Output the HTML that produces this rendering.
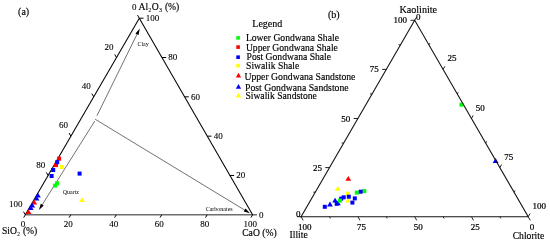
<!DOCTYPE html>
<html><head><meta charset="utf-8"><title>Ternary</title>
<style>
html,body{margin:0;padding:0;background:#fff;}
svg{display:block;font-family:"Liberation Serif",serif;fill:#000;}
text{stroke:#000;stroke-width:0.15px;}
</style></head><body>
<svg width="550" height="242" viewBox="0 0 550 242">
<rect width="550" height="242" fill="#fff"/>
<line x1="96.90" y1="115.80" x2="137.46" y2="33.36" stroke="#3a3a3a" stroke-width="0.72" />
<polygon points="139.80,28.60 138.59,35.03 135.45,33.48" fill="#000"/>
<line x1="94.80" y1="121.00" x2="41.72" y2="205.51" stroke="#3a3a3a" stroke-width="0.72" />
<polygon points="38.90,210.00 40.77,203.73 43.73,205.60" fill="#000"/>
<line x1="95.10" y1="119.20" x2="245.47" y2="210.55" stroke="#3a3a3a" stroke-width="0.72" />
<polygon points="250.00,213.30 243.71,211.52 245.52,208.53" fill="#000"/>
<text x="143.10" y="46.30" font-size="6" text-anchor="middle" style="stroke:none">Clay</text>
<text x="62.70" y="194.00" font-size="6" text-anchor="start" style="stroke:none">Quartz</text>
<text x="205.70" y="211.00" font-size="6" text-anchor="start" style="stroke:none">Carbonates</text>
<line x1="25.30" y1="214.80" x2="256.90" y2="214.80" stroke="#6e6e6e" stroke-width="1.5" />
<line x1="139.30" y1="18.20" x2="25.30" y2="214.80" stroke="#000" stroke-width="1.05" />
<line x1="139.30" y1="18.20" x2="252.60" y2="214.80" stroke="#000" stroke-width="1.05" />
<rect x="55.00" y="181.30" width="4.0" height="4.0" fill="#00ff00"/>
<rect x="53.10" y="183.60" width="4.0" height="4.0" fill="#00ff00"/>
<rect x="57.10" y="156.70" width="4.0" height="4.0" fill="#ff0000"/>
<rect x="54.00" y="163.10" width="4.0" height="4.0" fill="#ff0000"/>
<rect x="55.20" y="160.20" width="4.0" height="4.0" fill="#0000ff"/>
<rect x="51.20" y="168.00" width="4.0" height="4.0" fill="#0000ff"/>
<rect x="49.60" y="174.00" width="4.0" height="4.0" fill="#0000ff"/>
<rect x="77.60" y="171.60" width="4.0" height="4.0" fill="#0000ff"/>
<rect x="59.90" y="165.00" width="4.0" height="4.0" fill="#ffff00"/>
<polygon points="79.10,202.10 84.90,202.10 82.00,197.30" fill="#ffff00"/>
<polygon points="35.00,197.60 40.80,197.60 37.90,192.80" fill="#0000ff"/>
<polygon points="33.70,200.60 39.50,200.60 36.60,195.80" fill="#0000ff"/>
<polygon points="31.30,204.40 37.10,204.40 34.20,199.60" fill="#ff0000"/>
<polygon points="29.30,207.60 35.10,207.60 32.20,202.80" fill="#0000ff"/>
<polygon points="27.80,209.90 33.60,209.90 30.70,205.10" fill="#0000ff"/>
<polygon points="25.60,214.10 31.40,214.10 28.50,209.30" fill="#ff0000"/>
<line x1="139.30" y1="18.20" x2="137.50" y2="15.08" stroke="#000" stroke-width="1.0" />
<text x="136.40" y="10.40" font-size="9.0" text-anchor="end" style="stroke-width:0.1px">0</text>
<line x1="139.30" y1="18.20" x2="143.50" y2="18.20" stroke="#000" stroke-width="1.0" />
<text x="145.70" y="21.10" font-size="9.0" text-anchor="start" style="stroke-width:0.1px">100</text>
<line x1="25.30" y1="214.80" x2="23.70" y2="217.57" stroke="#000" stroke-width="1.0" />
<text x="22.90" y="227.20" font-size="9.0" text-anchor="middle" style="stroke-width:0.1px">0</text>
<line x1="116.50" y1="57.52" x2="114.70" y2="54.40" stroke="#000" stroke-width="1.0" />
<text x="113.60" y="49.72" font-size="9.0" text-anchor="end" style="stroke-width:0.1px">20</text>
<line x1="161.96" y1="57.52" x2="166.16" y2="57.52" stroke="#000" stroke-width="1.0" />
<text x="168.36" y="60.42" font-size="9.0" text-anchor="start" style="stroke-width:0.1px">80</text>
<line x1="70.76" y1="214.80" x2="69.16" y2="217.57" stroke="#000" stroke-width="1.0" />
<text x="68.36" y="227.20" font-size="9.0" text-anchor="middle" style="stroke-width:0.1px">20</text>
<line x1="93.70" y1="96.84" x2="91.90" y2="93.72" stroke="#000" stroke-width="1.0" />
<text x="90.80" y="89.04" font-size="9.0" text-anchor="end" style="stroke-width:0.1px">40</text>
<line x1="184.62" y1="96.84" x2="188.82" y2="96.84" stroke="#000" stroke-width="1.0" />
<text x="191.02" y="99.74" font-size="9.0" text-anchor="start" style="stroke-width:0.1px">60</text>
<line x1="116.22" y1="214.80" x2="114.62" y2="217.57" stroke="#000" stroke-width="1.0" />
<text x="113.82" y="227.20" font-size="9.0" text-anchor="middle" style="stroke-width:0.1px">40</text>
<line x1="70.90" y1="136.16" x2="69.10" y2="133.04" stroke="#000" stroke-width="1.0" />
<text x="68.00" y="128.36" font-size="9.0" text-anchor="end" style="stroke-width:0.1px">60</text>
<line x1="207.28" y1="136.16" x2="211.48" y2="136.16" stroke="#000" stroke-width="1.0" />
<text x="213.68" y="139.06" font-size="9.0" text-anchor="start" style="stroke-width:0.1px">40</text>
<line x1="161.68" y1="214.80" x2="160.08" y2="217.57" stroke="#000" stroke-width="1.0" />
<text x="159.28" y="227.20" font-size="9.0" text-anchor="middle" style="stroke-width:0.1px">60</text>
<line x1="48.10" y1="175.48" x2="46.30" y2="172.36" stroke="#000" stroke-width="1.0" />
<text x="45.20" y="167.68" font-size="9.0" text-anchor="end" style="stroke-width:0.1px">80</text>
<line x1="229.94" y1="175.48" x2="234.14" y2="175.48" stroke="#000" stroke-width="1.0" />
<text x="236.34" y="178.38" font-size="9.0" text-anchor="start" style="stroke-width:0.1px">20</text>
<line x1="207.14" y1="214.80" x2="205.54" y2="217.57" stroke="#000" stroke-width="1.0" />
<text x="204.74" y="227.20" font-size="9.0" text-anchor="middle" style="stroke-width:0.1px">80</text>
<line x1="25.30" y1="214.80" x2="23.50" y2="211.68" stroke="#000" stroke-width="1.0" />
<text x="22.40" y="207.00" font-size="9.0" text-anchor="end" style="stroke-width:0.1px">100</text>
<text x="259.00" y="217.70" font-size="9.0" text-anchor="start" style="stroke-width:0.1px">0</text>
<line x1="252.60" y1="214.80" x2="251.00" y2="217.57" stroke="#000" stroke-width="1.0" />
<text x="250.20" y="227.20" font-size="9.0" text-anchor="middle" style="stroke-width:0.1px">100</text>
<text x="138.50" y="10.00" font-size="9.65" text-anchor="start" >Al<tspan font-size="5.4" dx="0.4" dy="2.4" style="stroke-width:0.1px">2</tspan><tspan dx="0.6" dy="-2.4">O</tspan><tspan font-size="5.4" dx="0.4" dy="2.4" style="stroke-width:0.1px">3</tspan><tspan dx="0.6" dy="-2.4"> (%)</tspan></text>
<text x="1.90" y="233.90" font-size="9.65" text-anchor="start" >SiO<tspan font-size="5.4" dx="0.4" dy="2.4" style="stroke-width:0.1px">2</tspan><tspan dx="0.5" dy="-2.4"> (%)</tspan></text>
<text x="242.20" y="235.60" font-size="9.65" text-anchor="start" >CaO (%)</text>
<text x="18.10" y="14.60" font-size="10" text-anchor="start" >(a)</text>
<text x="328.00" y="17.70" font-size="10" text-anchor="start" >(b)</text>
<text x="252.30" y="27.10" font-size="10" text-anchor="start" >Legend</text>
<rect x="236.30" y="36.10" width="3.6" height="3.6" fill="#00ff00"/>
<text x="245.90" y="40.80" font-size="9.65" text-anchor="start" >Lower Gondwana Shale</text>
<rect x="236.30" y="45.30" width="3.6" height="3.6" fill="#ff0000"/>
<text x="245.90" y="50.90" font-size="9.65" text-anchor="start" >Upper Gondwana Shale</text>
<rect x="236.30" y="55.40" width="3.6" height="3.6" fill="#0000ff"/>
<text x="246.60" y="59.80" font-size="9.65" text-anchor="start" >Post Gondwana Shale</text>
<rect x="236.30" y="63.90" width="3.6" height="3.6" fill="#ffff00"/>
<text x="246.10" y="68.50" font-size="9.65" text-anchor="start" >Siwalik Shale</text>
<polygon points="235.85,77.40 241.15,77.40 238.50,72.80" fill="#ff0000"/>
<text x="244.40" y="79.50" font-size="9.71" text-anchor="start" >Upper Gondwana Sandstone</text>
<polygon points="235.85,88.70 241.15,88.70 238.50,84.10" fill="#0000ff"/>
<text x="245.10" y="90.50" font-size="9.71" text-anchor="start" >Post Gondwana Sandstone</text>
<polygon points="235.85,97.50 241.15,97.50 238.50,92.90" fill="#ffff00"/>
<text x="245.40" y="98.60" font-size="9.65" text-anchor="start" >Siwalik Sandstone</text>
<rect x="354.80" y="190.60" width="4.0" height="4.0" fill="#00ff00"/>
<rect x="362.30" y="189.10" width="4.0" height="4.0" fill="#00ff00"/>
<rect x="459.40" y="102.70" width="4.0" height="4.0" fill="#00ff00"/>
<rect x="345.90" y="191.70" width="4.0" height="4.0" fill="#ffff00"/>
<polygon points="334.70,190.70 340.50,190.70 337.60,185.90" fill="#ffff00"/>
<polygon points="345.00,202.50 350.80,202.50 347.90,197.70" fill="#ffff00"/>
<rect x="358.70" y="189.70" width="4.0" height="4.0" fill="#0000ff"/>
<rect x="346.80" y="194.70" width="4.0" height="4.0" fill="#0000ff"/>
<rect x="352.80" y="196.40" width="4.0" height="4.0" fill="#0000ff"/>
<rect x="341.70" y="195.30" width="4.0" height="4.0" fill="#0000ff"/>
<rect x="339.20" y="196.60" width="4.0" height="4.0" fill="#0000ff"/>
<rect x="350.40" y="200.60" width="4.0" height="4.0" fill="#0000ff"/>
<rect x="334.70" y="201.80" width="4.0" height="4.0" fill="#0000ff"/>
<rect x="322.80" y="204.80" width="4.0" height="4.0" fill="#0000ff"/>
<polygon points="332.20,202.50 338.00,202.50 335.10,197.70" fill="#0000ff"/>
<polygon points="335.00,205.30 340.80,205.30 337.90,200.50" fill="#0000ff"/>
<polygon points="327.10,206.40 332.90,206.40 330.00,201.60" fill="#0000ff"/>
<polygon points="492.70,162.90 498.50,162.90 495.60,158.10" fill="#0000ff"/>
<polygon points="345.40,180.70 351.20,180.70 348.30,175.90" fill="#ff0000"/>
<rect x="337.90" y="198.60" width="4.0" height="4.0" fill="#00ff00"/>
<polygon points="414.7,20.3 301.1,216.7 528.2,216.7" fill="none" stroke="#151515" stroke-width="1.1"/>
<line x1="414.70" y1="20.30" x2="410.50" y2="20.30" stroke="#151515" stroke-width="0.95" />
<text x="407.10" y="23.30" font-size="9.0" text-anchor="end" style="stroke-width:0.22px">100</text>
<line x1="414.70" y1="20.30" x2="416.50" y2="17.18" stroke="#151515" stroke-width="0.95" />
<text x="416.10" y="19.90" font-size="9.0" text-anchor="start" style="stroke-width:0.22px">0</text>
<line x1="301.10" y1="216.70" x2="303.20" y2="220.34" stroke="#151515" stroke-width="0.95" />
<text x="304.80" y="229.90" font-size="9.0" text-anchor="middle" style="stroke-width:0.22px">100</text>
<line x1="400.50" y1="44.85" x2="398.50" y2="44.85" stroke="#151515" stroke-width="0.95" />
<line x1="428.89" y1="44.85" x2="429.89" y2="43.12" stroke="#151515" stroke-width="0.95" />
<line x1="329.49" y1="216.70" x2="330.49" y2="218.43" stroke="#151515" stroke-width="0.95" />
<line x1="386.30" y1="69.40" x2="382.10" y2="69.40" stroke="#151515" stroke-width="0.95" />
<text x="378.70" y="72.40" font-size="9.0" text-anchor="end" style="stroke-width:0.22px">75</text>
<line x1="443.07" y1="69.40" x2="444.88" y2="66.28" stroke="#151515" stroke-width="0.95" />
<text x="447.38" y="61.40" font-size="9.0" text-anchor="start" style="stroke-width:0.22px">25</text>
<line x1="357.88" y1="216.70" x2="359.98" y2="220.34" stroke="#151515" stroke-width="0.95" />
<text x="361.57" y="229.90" font-size="9.0" text-anchor="middle" style="stroke-width:0.22px">75</text>
<line x1="372.10" y1="93.95" x2="370.10" y2="93.95" stroke="#151515" stroke-width="0.95" />
<line x1="457.26" y1="93.95" x2="458.26" y2="92.22" stroke="#151515" stroke-width="0.95" />
<line x1="386.26" y1="216.70" x2="387.26" y2="218.43" stroke="#151515" stroke-width="0.95" />
<line x1="357.90" y1="118.50" x2="353.70" y2="118.50" stroke="#151515" stroke-width="0.95" />
<text x="350.30" y="121.50" font-size="9.0" text-anchor="end" style="stroke-width:0.22px">50</text>
<line x1="471.45" y1="118.50" x2="473.25" y2="115.38" stroke="#151515" stroke-width="0.95" />
<text x="475.75" y="110.50" font-size="9.0" text-anchor="start" style="stroke-width:0.22px">50</text>
<line x1="414.65" y1="216.70" x2="416.75" y2="220.34" stroke="#151515" stroke-width="0.95" />
<text x="418.35" y="229.90" font-size="9.0" text-anchor="middle" style="stroke-width:0.22px">50</text>
<line x1="343.70" y1="143.05" x2="341.70" y2="143.05" stroke="#151515" stroke-width="0.95" />
<line x1="485.64" y1="143.05" x2="486.64" y2="141.32" stroke="#151515" stroke-width="0.95" />
<line x1="443.04" y1="216.70" x2="444.04" y2="218.43" stroke="#151515" stroke-width="0.95" />
<line x1="329.50" y1="167.60" x2="325.30" y2="167.60" stroke="#151515" stroke-width="0.95" />
<text x="321.90" y="170.60" font-size="9.0" text-anchor="end" style="stroke-width:0.22px">25</text>
<line x1="499.83" y1="167.60" x2="501.63" y2="164.48" stroke="#151515" stroke-width="0.95" />
<text x="504.13" y="159.60" font-size="9.0" text-anchor="start" style="stroke-width:0.22px">75</text>
<line x1="471.43" y1="216.70" x2="473.53" y2="220.34" stroke="#151515" stroke-width="0.95" />
<text x="475.13" y="229.90" font-size="9.0" text-anchor="middle" style="stroke-width:0.22px">25</text>
<line x1="315.30" y1="192.15" x2="313.30" y2="192.15" stroke="#151515" stroke-width="0.95" />
<line x1="514.01" y1="192.15" x2="515.01" y2="190.42" stroke="#151515" stroke-width="0.95" />
<line x1="499.81" y1="216.70" x2="500.81" y2="218.43" stroke="#151515" stroke-width="0.95" />
<line x1="301.10" y1="216.70" x2="296.90" y2="216.70" stroke="#151515" stroke-width="0.95" />
<text x="300.60" y="216.90" font-size="9.0" text-anchor="end" style="stroke-width:0.22px">0</text>
<line x1="528.20" y1="216.70" x2="530.00" y2="213.58" stroke="#151515" stroke-width="0.95" />
<text x="532.50" y="208.70" font-size="9.0" text-anchor="start" style="stroke-width:0.22px">100</text>
<line x1="528.20" y1="216.70" x2="530.30" y2="220.34" stroke="#151515" stroke-width="0.95" />
<text x="531.90" y="229.90" font-size="9.0" text-anchor="middle" style="stroke-width:0.22px">0</text>
<text x="399.40" y="12.90" font-size="10.15" text-anchor="start" >Kaolinite</text>
<text x="289.50" y="237.70" font-size="9.65" text-anchor="start" >Illite</text>
<text x="512.70" y="238.70" font-size="9.65" text-anchor="start" >Chlorite</text>
</svg>
</body></html>
